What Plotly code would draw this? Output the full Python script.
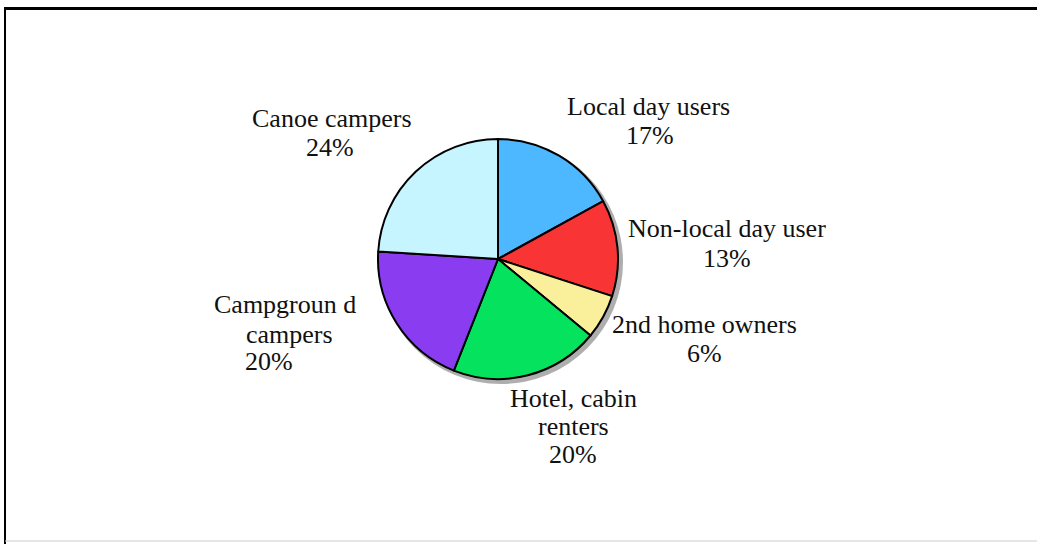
import plotly.graph_objects as go

# Données du camembert (sens horaire depuis midi)
labels = ["Local day users", "Non-local day user", "2nd home owners",
          "Hotel, cabin renters", "Campground campers", "Canoe campers"]
values = [17, 13, 6, 20, 20, 24]
colors = ["#4DB8FF", "#F93434", "#FAF09C", "#05E35E", "#8A3CF0", "#C6F5FF"]

# Texte des étiquettes, découpé en lignes comme l'original
label_lines = [["Local day users"], ["Non-local day user"], ["2nd home owners"],
               ["Hotel, cabin", "renters"], ["Campgroun d", "campers"], ["Canoe campers"]]

# Positions (x centre, ligne de base) en pixels pour chaque ligne, % compris
label_pos = [
    [(648, 116), (650, 144)],
    [(727, 238), (727, 267)],
    [(704, 333), (704, 362)],
    [(573, 407), (573, 435), (573, 463)],
    [(285, 313), (289, 343), (269, 370)],
    [(332, 127), (330, 156)],
]

W, H = 1037, 544
cx, cy, r = 498, 259, 120
fs = 26

fig = go.Figure()

fig.add_trace(go.Pie(
    labels=labels,
    values=values,
    sort=False,
    direction="clockwise",
    rotation=0,
    marker=dict(colors=colors, line=dict(color="black", width=2)),
    textinfo="none",
    hoverinfo="label+percent",
    showlegend=False,
    domain=dict(x=[(cx - r) / W, (cx + r) / W], y=[(H - cy - r) / H, (H - cy + r) / H]),
))

shapes = [
    # ombre du camembert
    dict(type="circle", xref="paper", yref="paper", layer="below",
         x0=(cx - r + 1) / W, x1=(cx + r + 5) / W,
         y0=(H - cy - r - 5) / H, y1=(H - cy + r - 1) / H,
         fillcolor="rgba(140,140,140,0.7)", line=dict(width=0)),
    # cadre
    dict(type="line", xref="paper", yref="paper", x0=4 / W, x1=1, y0=1 - 8.5 / H, y1=1 - 8.5 / H,
         line=dict(color="black", width=3)),
    dict(type="line", xref="paper", yref="paper", x0=5 / W, x1=5 / W, y0=1 - 8 / H, y1=0,
         line=dict(color="black", width=2)),
    dict(type="line", xref="paper", yref="paper", x0=5 / W, x1=1, y0=3 / H, y1=3 / H,
         line=dict(color="#cccccc", width=1)),
]

annotations = []
for lines, v, pos in zip(label_lines, values, label_pos):
    for txt, (px, base) in zip(lines + [f"{v}%"], pos):
        annotations.append(dict(
            x=px / W, y=1 - (base - 9) / H, xref="paper", yref="paper",
            text=txt, showarrow=False, borderpad=0,
            xanchor="center", yanchor="middle",
            font=dict(family="Liberation Serif", size=fs, color="#111111"),
        ))

fig.update_layout(
    width=W, height=H,
    margin=dict(l=0, r=0, t=0, b=0),
    paper_bgcolor="white",
    plot_bgcolor="white",
    shapes=shapes,
    annotations=annotations,
)

fig.write_html("out.html", config={"displayModeBar": False},
               post_script="document.body.style.margin='0';document.body.style.overflow='hidden';")
